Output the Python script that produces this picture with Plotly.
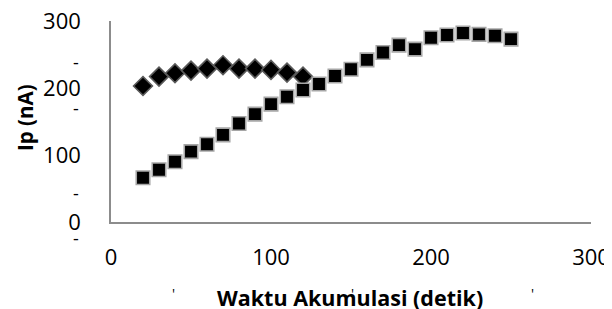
import plotly.graph_objects as go

# Data
diamond_x = [20, 30, 40, 50, 60, 70, 80, 90, 100, 110, 120]
diamond_y = [203, 217, 222, 226, 229, 234, 229, 229, 227, 223, 217]

square_x = [20, 30, 40, 50, 60, 70, 80, 90, 100, 110, 120, 130, 140, 150,
            160, 170, 180, 190, 200, 210, 220, 230, 240, 250]
square_y = [66, 78, 90, 105, 116, 130, 147, 161, 176, 187, 197, 206, 218, 228,
            242, 253, 264, 258, 275, 279, 282, 280, 278, 273]

x_ticks = [0, 100, 200, 300]
y_ticks = [0, 100, 200, 300]

x_title = "Waktu Akumulasi (detik)"
y_title = "Ip (nA)"

FONT = "Open Sans, Liberation Sans, sans-serif"
# The page body has an 8px default margin, so the figure is drawn 8px in.
OFF = 8
W, H = 612 - OFF, 309 - OFF
L, R, T, B = 111 - OFF, 21, 21 - OFF, 87
PW, PH = W - L - R, H - T - B

fig = go.Figure()
fig.add_trace(go.Scatter(
    x=diamond_x, y=diamond_y, mode="markers",
    marker=dict(symbol="diamond", size=14.5, color="black",
                line=dict(color="#5a5a5a", width=1.6)),
    showlegend=False))
fig.add_trace(go.Scatter(
    x=square_x, y=square_y, mode="markers",
    marker=dict(symbol="square", size=13.5, color="black",
                line=dict(color="#a6a6a6", width=1.6)),
    showlegend=False))

axis_common = dict(showgrid=False, zeroline=False, showline=True,
                   linecolor="#8c8c8c", linewidth=1.5, ticks="",
                   tickfont=dict(family=FONT, size=22, color="black"),
                   automargin=False, ticklabeloverflow="allow")
fig.update_xaxes(range=[0, 300], tickvals=x_ticks, ticklabelstandoff=15, **axis_common)
fig.update_yaxes(range=[0, 300], tickvals=y_ticks, ticklabelstandoff=24, **axis_common)


# helpers converting screen pixel positions to paper coordinates
def px(xp):
    return (xp - OFF - L) / PW


def py(yp):
    return (H - B - (yp - OFF)) / PH


annotations = [
    dict(text=f"<b>{x_title}</b>", x=px(350), y=py(297), xref="paper", yref="paper",
         showarrow=False, font=dict(family=FONT, size=21.5, color="black"),
         xanchor="center", yanchor="middle"),
    dict(text=f"<b>{y_title}</b>", x=px(25), y=py(118), xref="paper", yref="paper",
         showarrow=False, textangle=-90, font=dict(family=FONT, size=20.5, color="black"),
         xanchor="center", yanchor="middle"),
]
for yp in [62, 108, 193, 238]:
    annotations.append(dict(text="-", x=px(76), y=py(yp), xref="paper", yref="paper",
                            showarrow=False, font=dict(family=FONT, size=18, color="black"),
                            xanchor="center", yanchor="middle"))
for xp in [173, 352, 532]:
    annotations.append(dict(text="'", x=px(xp), y=py(293), xref="paper", yref="paper",
                            showarrow=False, font=dict(family=FONT, size=14, color="black"),
                            xanchor="center", yanchor="middle"))

fig.update_layout(
    width=W, height=H,
    margin=dict(l=L, r=R, t=T, b=B),
    paper_bgcolor="white", plot_bgcolor="white",
    annotations=annotations,
    font=dict(family=FONT),
)

fig.write_html("out.html")
